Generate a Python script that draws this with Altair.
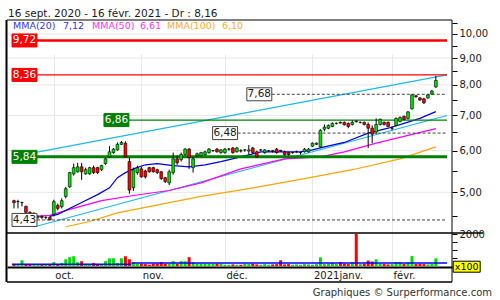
import altair as alt
import pandas as pd

# ---- daily quotes (EUR), one row per trading session ----
opens = [4.82, 4.80, 4.78, 4.70, 4.58, 4.56, 4.48, 4.50, 4.48, 4.48,
         4.54, 4.72, 4.70, 4.91, 5.12, 5.42, 5.47, 5.59, 5.42, 5.42,
         5.57, 5.57, 5.52, 5.67, 5.84, 5.95, 6.02, 6.17, 6.20, 5.72,
         5.10, 5.45, 5.54, 5.49, 5.57, 5.57, 5.52, 5.47, 5.33, 5.21,
         5.45, 5.79, 5.77, 5.90, 6.04, 5.57, 5.87, 5.87, 5.90, 5.95,
         6.00, 6.04, 5.95, 5.95, 6.04, 6.07, 5.97, 6.00, 6.02, 5.99,
         6.07, 5.97, 6.02, 5.95, 6.00, 6.00, 6.04, 6.01, 5.97, 5.95,
         5.95, 5.97, 5.95, 5.97, 5.97, 6.12, 6.17, 6.10, 6.59, 6.62,
         6.67, 6.76, 6.79, 6.79, 6.76, 6.73, 6.83, 6.79, 6.79, 6.73,
         6.62, 6.51, 6.73, 6.79, 6.79, 6.62, 6.70, 6.82, 6.97, 6.91,
         7.21, 7.63, 7.56, 7.53, 7.56, 7.69, 7.93]
highs = [4.84, 4.84, 4.80, 4.72, 4.60, 4.58, 4.52, 4.52, 4.50, 4.50,
         4.84, 4.76, 4.87, 5.12, 5.47, 5.67, 5.69, 5.69, 5.57, 5.59,
         5.62, 5.59, 5.64, 5.82, 6.12, 6.07, 6.22, 6.26, 6.25, 5.82,
         5.57, 5.62, 5.59, 5.52, 5.59, 5.59, 5.54, 5.49, 5.35, 5.52,
         5.95, 5.87, 5.95, 6.07, 6.07, 5.84, 5.95, 5.97, 6.00, 6.07,
         6.02, 6.07, 6.04, 6.07, 6.07, 6.10, 6.10, 6.04, 6.04, 6.15,
         6.10, 6.00, 6.04, 6.04, 6.02, 6.02, 6.07, 6.02, 6.00, 5.97,
         5.97, 6.00, 5.97, 6.07, 6.07, 6.22, 6.22, 6.59, 6.73, 6.73,
         6.79, 6.79, 6.82, 6.82, 6.79, 6.85, 6.85, 6.82, 6.82, 6.79,
         6.70, 6.91, 6.91, 6.82, 6.82, 6.67, 6.94, 6.97, 7.00, 7.14,
         7.68, 7.66, 7.59, 7.56, 7.67, 7.83, 8.32]
lows = [4.66, 4.66, 4.70, 4.56, 4.52, 4.50, 4.45, 4.45, 4.44, 4.43,
        4.50, 4.62, 4.66, 4.87, 5.10, 5.38, 5.45, 5.28, 5.40, 5.40,
        5.42, 5.42, 5.49, 5.64, 5.82, 5.92, 6.00, 6.15, 5.82, 4.97,
        5.03, 5.40, 5.33, 5.31, 5.45, 5.45, 5.42, 5.28, 5.21, 5.16,
        5.40, 5.64, 5.72, 5.87, 5.54, 5.45, 5.84, 5.84, 5.87, 5.92,
        5.97, 5.95, 5.92, 5.92, 6.00, 5.92, 5.95, 5.95, 5.97, 5.90,
        5.92, 5.82, 5.99, 5.92, 5.97, 5.95, 5.92, 5.97, 5.87, 5.87,
        5.92, 5.95, 5.90, 5.95, 5.95, 6.10, 6.15, 6.07, 6.53, 6.59,
        6.65, 6.73, 6.76, 6.70, 6.62, 6.70, 6.79, 6.76, 6.70, 6.07,
        6.20, 6.45, 6.70, 6.70, 6.65, 6.56, 6.67, 6.79, 6.85, 6.88,
        7.18, 7.56, 7.46, 7.36, 7.53, 7.66, 7.90]
closes = [4.78, 4.80, 4.78, 4.58, 4.56, 4.56, 4.50, 4.48, 4.48, 4.43,
          4.80, 4.66, 4.82, 5.08, 5.45, 5.57, 5.59, 5.47, 5.52, 5.57,
          5.45, 5.45, 5.62, 5.79, 5.97, 6.04, 6.17, 6.22, 5.84, 5.05,
          5.52, 5.57, 5.35, 5.35, 5.47, 5.47, 5.45, 5.31, 5.24, 5.47,
          5.79, 5.69, 5.90, 6.04, 5.82, 5.79, 5.92, 5.95, 5.97, 6.04,
          6.00, 5.97, 6.02, 6.04, 6.04, 5.95, 6.07, 5.99, 6.02, 6.02,
          5.95, 5.84, 6.02, 6.02, 6.00, 5.98, 5.95, 5.99, 5.90, 5.90,
          5.95, 5.97, 5.95, 6.04, 6.04, 6.20, 6.20, 6.56, 6.65, 6.70,
          6.76, 6.76, 6.77, 6.72, 6.67, 6.79, 6.81, 6.79, 6.73, 6.62,
          6.45, 6.73, 6.88, 6.73, 6.67, 6.62, 6.91, 6.94, 6.88, 7.11,
          7.66, 7.60, 7.49, 7.40, 7.66, 7.79, 8.16]
# volume in hundreds of shares
volumes = [100, 80, 360, 80, 80, 80, 80, 80, 80, 80,
           240, 80, 180, 420, 550, 610, 240, 300, 80, 80,
           180, 80, 80, 300, 480, 480, 180, 480, 610, 420,
           240, 140, 140, 120, 80, 140, 140, 240, 140, 140,
           300, 140, 300, 300, 550, 240, 140, 140, 140, 140,
           140, 140, 140, 80, 80, 100, 80, 80, 140, 120,
           140, 100, 80, 120, 80, 100, 120, 360, 100, 120,
           80, 100, 80, 120, 100, 80, 120, 540, 120, 140,
           200, 120, 240, 140, 120, 240, 2000, 120, 140, 340,
           280, 420, 140, 120, 100, 120, 240, 240, 120, 200,
           620, 120, 140, 120, 100, 140, 480]

# moving averages, sampled by session index
mma20_idx = [9, 11, 17, 21, 24, 26, 28, 30, 33, 36, 40, 44, 48, 52, 57, 62, 66, 72, 75, 78, 83, 89, 94, 98, 102, 106]
mma20_val = [4.50, 4.54, 4.78, 4.95, 5.10, 5.33, 5.45, 5.54, 5.64, 5.67, 5.62, 5.59, 5.64, 5.72, 5.84, 5.97, 5.97,
             5.97, 6.02, 6.10, 6.22, 6.48, 6.62, 6.76, 6.91, 7.12]
mma50_idx = [5, 9, 14, 22, 30, 39, 47, 57, 68, 77, 83, 91, 106]
mma50_val = [4.50, 4.52, 4.64, 4.82, 4.93, 5.04, 5.21, 5.54, 5.79, 5.84, 5.97, 6.20, 6.61]
mma100_idx = [13, 19, 26, 39, 47, 59, 73, 85, 97, 106]
mma100_val = [4.30, 4.40, 4.57, 4.78, 4.91, 5.08, 5.31, 5.52, 5.79, 6.10]

# horizontal x range (session index) of the price panel
X_MIN, X_MAX = -0.5, 108.8

# trend channel
chan_hi_idx = [X_MIN, X_MAX]
chan_hi_val = [5.84, 8.36]
chan_lo_idx = [5.2, X_MAX]
chan_lo_val = [4.30, 7.00]

# support / resistance levels
level_values = [9.72, 8.36, 6.86, 5.84, 7.68, 6.48, 4.43]
level_start = [X_MIN, X_MIN, 22.6, X_MIN, 58.5, 49.9, X_MIN]
level_kind = ["res_major", "res", "sup", "sup_major", "mark", "mark", "mark"]

# volume average (hundreds of shares)
vavg_from = [X_MIN, 29.5]
vavg_to = [29.5, X_MAX]
vavg_val = [105, 185]

month_labels = ["oct.", "nov.", "déc.", "2021janv.", "févr."]

FONT = "DejaVu Sans"
GREEN, RED = "#00e000", "#ff0000"


def fr(v):
    return f"{v:.2f}".replace(".", ",")


n = len(closes)
df = pd.DataFrame({"i": range(n), "open": opens, "high": highs, "low": lows,
                   "close": closes, "volume": volumes})
df["dir"] = ["up" if c >= o else "down" for o, c in zip(opens, closes)]

# trading calendar -> month start sessions
days = pd.bdate_range("2020-09-17", "2021-02-16")
days = days[~days.isin(pd.to_datetime(["2020-12-25", "2021-01-01"]))][:n]
month_idx = [k for k in range(1, len(days)) if days[k].month != days[k - 1].month]
month_expr = " : ".join(f"datum.value == {k} ? '{lab}'" for k, lab in zip(month_idx, month_labels)) + " : ''"

xs = alt.Scale(domain=[X_MIN, X_MAX], nice=False, zero=False)
ps = alt.Scale(type="log", domain=[4.184, 10.632], range=[213, 0], nice=False, zero=False)
vs = alt.Scale(domain=[0, 2000], range=[246, 214], nice=False)
dir_scale = alt.Scale(domain=["up", "down"], range=[GREEN, RED])

x_axis = alt.Axis(values=month_idx, labelExpr=month_expr, grid=True, gridColor="#e8e8e8", ticks=False,
                  domainColor="black", domainWidth=2, labelAlign="left", labelOffset=1, labelPadding=3,
                  labelBaseline="top", labelFont=FONT, labelFontSize=10, labelColor="#1a1a1a",
                  labelOverlap=False, labelFlush=False, title=None)
price_axis = alt.Axis(orient="right", values=[4.5 + 0.5 * k for k in range(13)],
                      labelExpr="datum.value % 1 == 0 ? replace(format(datum.value, '.2f'), '.', ',') : ''",
                      tickSize=5, tickColor="black", domain=False, grid=False, labelFont=FONT,
                      labelFontSize=10, labelColor="#1a1a1a", labelPadding=2, labelOverlap=False,
                      labelFlush=False, title=None)
vol_axis = alt.Axis(orient="right", values=[500, 1000, 1500, 2000],
                    labelExpr="datum.value == 2000 ? '2000' : ''", tickSize=5, tickColor="black",
                    domain=False, grid=False, labelFont=FONT, labelFontSize=10, labelColor="#1a1a1a",
                    labelPadding=2, labelOverlap=False, labelFlush=False, title=None)

# every layer carries the same axis definitions so that the shared axes merge cleanly
X = lambda f: alt.X(f, scale=xs, axis=x_axis)
Y = lambda f: alt.Y(f, scale=ps, axis=price_axis)
V = lambda f: alt.Y(f, scale=vs, axis=vol_axis)

# ---- price panel ----
hgrid = alt.Chart(pd.DataFrame({"v": [5, 6, 7, 8, 9, 10]})).mark_rule(
    color="#e8e8e8", strokeWidth=1).encode(y=Y("v:Q"))


def series(idx, val, color, width=1.2):
    d = pd.DataFrame({"i": idx, "v": val})
    return alt.Chart(d).mark_line(color=color, strokeWidth=width).encode(x=X("i:Q"), y=Y("v:Q"))


chan_hi = series(chan_hi_idx, chan_hi_val, "#1cb8f0", 1.1)
chan_lo = series(chan_lo_idx, chan_lo_val, "#1cb8f0", 1.1)
mma100 = series(mma100_idx, mma100_val, "#ffa500")
mma50 = series(mma50_idx, mma50_val, "#ff00ff")
mma20 = series(mma20_idx, mma20_val, "#0000e6")

STYLE = {
    "res_major": dict(line=RED, width=2.6, dash=[1, 0], fill=RED, border=RED, text="white"),
    "res": dict(line=RED, width=1.2, dash=[1, 0], fill=RED, border=RED, text="white"),
    "sup": dict(line="#008000", width=1.3, dash=[1, 0], fill="#008000", border="#008000", text="white"),
    "sup_major": dict(line="#008000", width=3, dash=[1, 0], fill="#008000", border="#008000", text="white"),
    "mark": dict(line="#444444", width=1, dash=[3, 2], fill="white", border="#444444", text="#1a1a1a"),
}
BOX = "M-1.92,-1H1.92V1H-1.92Z"

lvl_rules, lvl_boxes, lvl_texts = [], [], []
for v, s, kind in zip(level_values, level_start, level_kind):
    st = STYLE[kind]
    d = pd.DataFrame({"v": [v], "s": [s], "e": [X_MAX], "lab": [fr(v)]})
    enc = dict(x=X("s:Q"), y=Y("v:Q"))
    lvl_rules.append(alt.Chart(d).mark_rule(color=st["line"], strokeWidth=st["width"],
                                            strokeDash=st["dash"]).encode(x2="e:Q", **enc))
    lvl_boxes.append(alt.Chart(d).mark_point(shape=BOX, size=169, filled=True, fill=st["fill"],
                                             stroke=st["border"], strokeWidth=1, opacity=1,
                                             xOffset=12.5).encode(**enc))
    lvl_texts.append(alt.Chart(d).mark_text(dx=12.5, font=FONT, fontSize=10.5,
                                            color=st["text"]).encode(text="lab:N", **enc))

wick = alt.Chart(df).mark_rule(color="black", strokeWidth=1).encode(
    x=X("i:Q"), y=Y("low:Q"), y2="high:Q")
body = alt.Chart(df).mark_bar(size=2.8, stroke="black", strokeWidth=0.6).encode(
    x=X("i:Q"), y=Y("open:Q"), y2="close:Q",
    color=alt.Color("dir:N", scale=dir_scale, legend=None))

price = alt.layer(hgrid, chan_hi, chan_lo, mma100, mma50, mma20, *lvl_rules, wick, body,
                  *lvl_boxes, *lvl_texts)

# ---- volume panel ----
vbars = alt.Chart(df).mark_bar(size=3).encode(
    x=X("i:Q"), y=V("volume:Q"),
    color=alt.Color("dir:N", scale=dir_scale, legend=None))
vavg = alt.Chart(pd.DataFrame({"a": vavg_from, "b": vavg_to, "v": vavg_val})).mark_rule(
    color="#0000ff", strokeWidth=1.5).encode(x=X("a:Q"), x2="b:Q", y=V("v:Q"))
volume = alt.layer(vbars, vavg)

# ---- frame, captions ----
one = pd.DataFrame({"k": [0]})


def line(w, **kw):
    return alt.Chart(one).mark_rule(color="black", strokeWidth=w).encode(
        **{k: alt.value(v) for k, v in kw.items()})


frame = [
    line(1, x=0, x2=445, y=0),
    line(2, x=-0.5, y=0, y2=262),
    line(1, x=445, y=0, y2=262),
    line(1.6, x=0, x2=476, y=213),
    line(1.5, x=0, x2=445, y=262),
]


def label(text, x, y, color="#1a1a1a", size=10, align="left", baseline="middle"):
    return alt.Chart(pd.DataFrame({"t": [text]})).mark_text(
        font=FONT, fontSize=size, color=color, align=align, baseline=baseline).encode(
        x=alt.value(x), y=alt.value(y), text="t:N")


title = label(f"16 sept. 2020 - 16 févr. 2021 - Dr : {fr(closes[-1])}", 1, -3, size=10.5,
              baseline="alphabetic")
legend = [
    label("MMA(20)", 6, 6, "#3333ff", 9.5), label(fr(mma20_val[-1]), 56, 6, "#3333ff", 9.5),
    label("MMA(50)", 85, 6, "#ff33ff", 9.5), label(fr(mma50_val[-1]), 133, 6, "#ff33ff", 9.5),
    label("MMA(100)", 160, 6, "#ffaa33", 9.5), label(fr(mma100_val[-1]), 215, 6, "#ffaa33", 9.5),
]
unit_box = alt.Chart(one).mark_point(shape="M-2.45,-1H2.45V1H-2.45Z", size=121, filled=True,
                                     fill="#ffff00", stroke="black", strokeWidth=1, opacity=1).encode(
    x=alt.value(459.7), y=alt.value(246.7))
unit_txt = label("x100", 459.7, 247, "#000000", 9.5, align="center")
footer = label("Graphiques © Surperformance.com", 485, 276, "#333333", 10, align="right",
               baseline="alphabetic")

chart = alt.layer(price, volume, *frame, title, *legend, unit_box, unit_txt, footer).resolve_scale(
    y="independent"
).properties(
    width=445, height=247,
    autosize=alt.AutoSizeParams(type="none"),
    padding={"left": 7, "top": 20, "right": 48, "bottom": 33},
    background="white",
).configure(font=FONT).configure_view(stroke="transparent")

chart.save("out.html", embed_options={"renderer": "svg", "actions": False})
